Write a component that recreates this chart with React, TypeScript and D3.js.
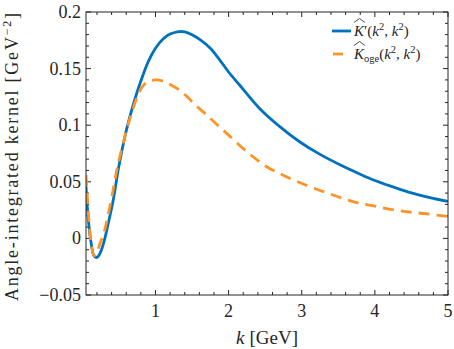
import React from 'react';
import * as d3 from 'd3';

// k [GeV] sample points
const kPrimeK = [0.05, 0.08, 0.12, 0.16, 0.2, 0.25, 0.3, 0.35, 0.42, 0.5, 0.6, 0.7, 0.8, 0.9, 1.0, 1.1, 1.2, 1.3, 1.4, 1.5, 1.6, 1.75, 1.875, 2.0, 2.15, 2.42, 2.7, 2.97, 3.25, 3.53, 3.8, 4.0, 4.25, 4.5, 4.75, 5.0];
const kPrimeValues = [0.046, 0.018, -0.004, -0.0155, -0.0168, -0.012, -0.002, 0.012, 0.033, 0.064, 0.095, 0.119, 0.139, 0.156, 0.168, 0.176, 0.1805, 0.1825, 0.1825, 0.180, 0.176, 0.168, 0.158, 0.147, 0.1355, 0.115, 0.0987, 0.0854, 0.0742, 0.0648, 0.0567, 0.0512, 0.0455, 0.0402, 0.036, 0.0327];

const ogeK = [0.05, 0.08, 0.12, 0.16, 0.2, 0.25, 0.3, 0.35, 0.41, 0.48, 0.59, 0.67, 0.75, 0.82, 0.9, 1.0, 1.1, 1.2, 1.33, 1.45, 1.56, 1.7, 1.8, 1.97, 2.25, 2.52, 2.79, 3.11, 3.4, 3.7, 4.0, 4.33, 4.66, 5.0];
const ogeValues = [0.056, 0.025, -0.004, -0.0153, -0.012, -0.003, 0.006, 0.02, 0.039, 0.063, 0.092, 0.110, 0.125, 0.134, 0.1385, 0.140, 0.139, 0.136, 0.131, 0.124, 0.117, 0.109, 0.103, 0.093, 0.0766, 0.0633, 0.0545, 0.0457, 0.039, 0.0325, 0.0285, 0.0245, 0.022, 0.0195];

const xTicks = [1, 2, 3, 4, 5];
const yTicks = [-0.05, 0, 0.05, 0.1, 0.15, 0.2];
const yTickLabels = ['\u22120.05', '0', '0.05', '0.1', '0.15', '0.2'];

const BLUE = '#0072BD';
const ORANGE = '#FF9326';
const AXIS = '#262626';
const FONT = '"Liberation Serif", "DejaVu Serif", serif';

const margin = { top: 12, right: 6, bottom: 54, left: 86 };
const W = 454;
const H = 349;

export default function App() {
  const x = d3.scaleLinear().domain([0.05, 5]).range([margin.left, W - margin.right]);
  const y = d3.scaleLinear().domain([-0.05, 0.2]).range([H - margin.bottom, margin.top]);

  const line = d3.line<[number, number]>()
    .x((d) => x(d[0]))
    .y((d) => y(d[1]))
    .curve(d3.curveCatmullRom.alpha(0.5));

  const bluePath = line(kPrimeK.map((k, i) => [k, kPrimeValues[i]]));
  const orangePath = line(ogeK.map((k, i) => [k, ogeValues[i]]));

  const xMinor = d3.range(0.2, 5, 0.2).filter((v) => Math.abs(v - Math.round(v)) > 1e-6);
  const yMinor = d3.range(-0.04, 0.2, 0.01).filter((v) => Math.abs(v / 0.05 - Math.round(v / 0.05)) > 1e-6);

  const [x0, x1] = x.range();
  const [y0, y1] = y.range();

  return (
    <svg width={W} height={H} style={{ position: 'absolute', left: 0, top: 0 }} fontFamily={FONT}>
      <defs>
        <clipPath id="plot">
          <rect x={x0} y={y1} width={x1 - x0} height={y0 - y1} />
        </clipPath>
      </defs>
      <rect width={W} height={H} fill="#fff" />

      <g stroke={AXIS} strokeWidth={1}>
        {xTicks.map((t) => (
          <g key={'xt' + t}>
            <line x1={x(t)} x2={x(t)} y1={y0} y2={y0 - 5} />
            <line x1={x(t)} x2={x(t)} y1={y1} y2={y1 + 5} />
          </g>
        ))}
        {xMinor.map((t) => (
          <g key={'xm' + t}>
            <line x1={x(t)} x2={x(t)} y1={y0} y2={y0 - 3} />
            <line x1={x(t)} x2={x(t)} y1={y1} y2={y1 + 3} />
          </g>
        ))}
        {yTicks.map((t) => (
          <g key={'yt' + t}>
            <line x1={x0} x2={x0 + 5} y1={y(t)} y2={y(t)} />
            <line x1={x1} x2={x1 - 5} y1={y(t)} y2={y(t)} />
          </g>
        ))}
        {yMinor.map((t) => (
          <g key={'ym' + t}>
            <line x1={x0} x2={x0 + 3} y1={y(t)} y2={y(t)} />
            <line x1={x1} x2={x1 - 3} y1={y(t)} y2={y(t)} />
          </g>
        ))}
      </g>

      <g clipPath="url(#plot)" fill="none" strokeLinejoin="round">
        <path d={bluePath ?? ''} stroke={BLUE} strokeWidth={2.8} />
        <path d={orangePath ?? ''} stroke={ORANGE} strokeWidth={2.8} strokeDasharray="11,7" />
      </g>

      <rect x={x0} y={y1} width={x1 - x0} height={y0 - y1} fill="none" stroke={AXIS} strokeWidth={1} />

      <g fontSize={18} fill={AXIS}>
        {xTicks.map((t) => (
          <text key={'xl' + t} x={x(t)} y={y0 + 22} textAnchor="middle">{t}</text>
        ))}
        {yTicks.map((t, i) => (
          <text key={'yl' + t} x={x0 - 5} y={y(t) + 6} textAnchor="end">{yTickLabels[i]}</text>
        ))}
      </g>

      <text x={(x0 + x1) / 2} y={344} textAnchor="middle" fontSize={19} fill={AXIS}>
        <tspan fontStyle="italic">k</tspan><tspan dx={5}>[GeV]</tspan>
      </text>

      <text transform={`translate(18, 157) rotate(-90)`} textAnchor="middle" fontSize={18} fill={AXIS}
        textLength={288} lengthAdjust="spacing">
        Angle-integrated kernel [GeV<tspan dy={-7} fontSize={12}>{'\u22122'}</tspan><tspan dy={7}>]</tspan>
      </text>

      <g fontSize={15} fill={AXIS}>
        <line x1={332} x2={351} y1={31} y2={31} stroke={BLUE} strokeWidth={2.8} />
        <path d="M354,22.5 L359.5,18.5 L365,22.5" fill="none" stroke={AXIS} strokeWidth={0.8} />
        <text x={354} y={36}>
          <tspan fontStyle="italic">K</tspan>{'\u2032'}(<tspan fontStyle="italic">k</tspan><tspan dy={-6} fontSize={10.5}>2</tspan><tspan dy={6}>, </tspan><tspan fontStyle="italic">k</tspan><tspan dy={-6} fontSize={10.5}>2</tspan><tspan dy={6}>)</tspan>
        </text>
        <line x1={333} x2={343} y1={54} y2={54} stroke={ORANGE} strokeWidth={2.8} />
        <path d="M354,45.5 L359.5,41.5 L365,45.5" fill="none" stroke={AXIS} strokeWidth={0.8} />
        <text x={354} y={59}>
          <tspan fontStyle="italic">K</tspan><tspan dy={3} fontSize={10.5}>oge</tspan><tspan dy={-3}>(</tspan><tspan fontStyle="italic">k</tspan><tspan dy={-6} fontSize={10.5}>2</tspan><tspan dy={6}>, </tspan><tspan fontStyle="italic">k</tspan><tspan dy={-6} fontSize={10.5}>2</tspan><tspan dy={6}>)</tspan>
        </text>
      </g>
    </svg>
  );
}
